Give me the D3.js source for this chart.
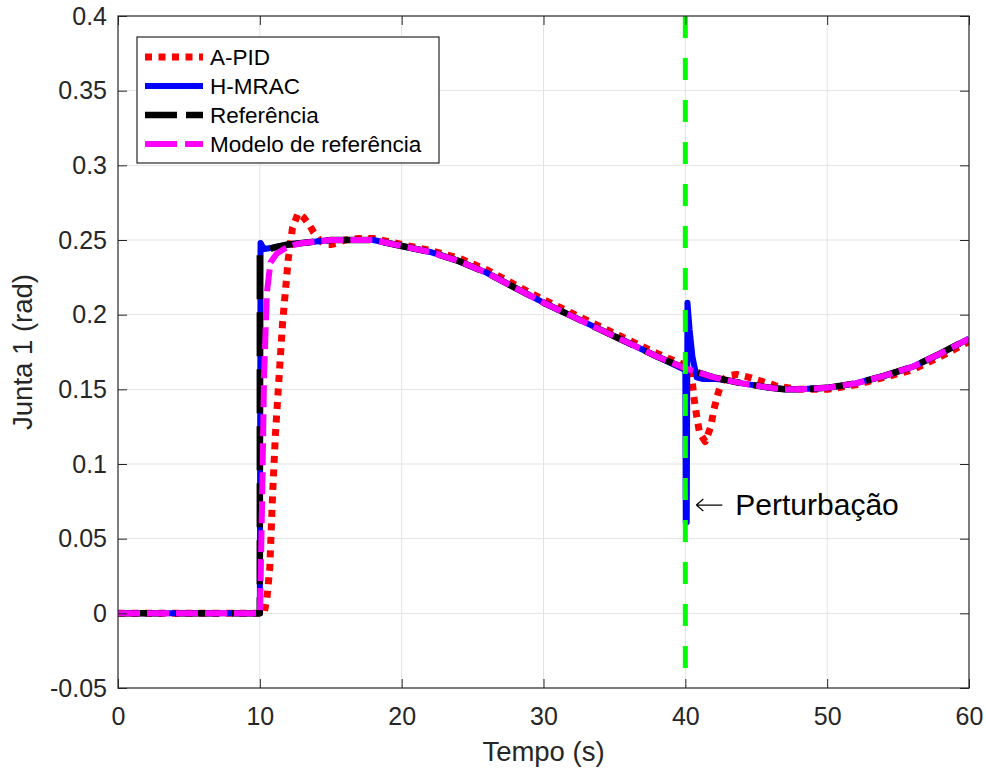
<!DOCTYPE html>
<html>
<head>
<meta charset="utf-8">
<script src="https://cdn.jsdelivr.net/npm/d3@7"></script>
<style>
  body { margin: 0; background: #fff; }
  svg { display: block; font-family: "Liberation Sans", Arial, Helvetica, sans-serif; }
</style>
</head>
<body>
<script>
// Junta 1: A-PID vs H-MRAC com perturbação em t = 40 s

const width = 986;
const height = 775;

const xTicks = [0, 10, 20, 30, 40, 50, 60];
const yTicks = [-0.05, 0, 0.05, 0.1, 0.15, 0.2, 0.25, 0.3, 0.35, 0.4];
const yTickLabels = ["-0.05", "0", "0.05", "0.1", "0.15", "0.2", "0.25", "0.3", "0.35", "0.4"];

// A-PID (red dotted)
const pidT = [0, 10.3, 10.5, 10.7, 10.9, 11.1, 11.3, 11.6, 12, 12.3, 12.7, 13.1, 13.5, 13.8, 14.2, 14.6, 15, 15.5, 16, 17, 18, 19, 20, 22, 24, 26, 28, 30, 32, 34, 36, 38, 40, 40.4, 40.6, 40.8, 41, 41.4, 41.8, 42, 42.3, 42.6, 43, 43.6, 44.5, 45.5, 46.5, 48, 50, 52, 54, 56, 58, 60];
const pidV = [0, 0, 0.01, 0.03, 0.08, 0.12, 0.15, 0.194, 0.237, 0.258, 0.268, 0.265, 0.26, 0.255, 0.25, 0.247, 0.247, 0.248, 0.25, 0.251, 0.251, 0.249, 0.247, 0.243, 0.238, 0.23, 0.22, 0.21, 0.201, 0.192, 0.183, 0.174, 0.166, 0.163, 0.145, 0.132, 0.121, 0.115, 0.125, 0.136, 0.147, 0.156, 0.159, 0.16, 0.158, 0.155, 0.152, 0.15, 0.15, 0.153, 0.158, 0.163, 0.172, 0.182];

// H-MRAC (blue solid)
const mracT = [0, 10, 10.05, 10.3, 11, 12, 13, 14, 15, 16, 17, 18, 19, 20, 22, 24, 26, 28, 30, 32, 34, 36, 38, 40, 40.03, 40.1, 40.15, 40.3, 40.5, 40.8, 41.2, 42, 43, 44, 46, 47, 48, 50, 52, 54, 56, 58, 60];
const mracV = [0, 0, 0.248, 0.244, 0.245, 0.247, 0.248, 0.249, 0.25, 0.25, 0.25, 0.25, 0.248, 0.246, 0.242, 0.236, 0.228, 0.218, 0.208, 0.199, 0.19, 0.181, 0.172, 0.163, 0.061, 0.061, 0.208, 0.19, 0.172, 0.158, 0.157, 0.157, 0.156, 0.154, 0.151, 0.15, 0.15, 0.151, 0.154, 0.159, 0.165, 0.174, 0.184];

// Referência (black dashed)
const refT = [0, 10, 10, 10.5, 11, 12, 13, 14, 15, 16, 17, 18, 19, 20, 22, 24, 26, 28, 30, 32, 34, 36, 38, 40, 42, 44, 46, 47, 48, 50, 52, 54, 56, 58, 60];
const refV = [0, 0, 0.241, 0.243, 0.245, 0.247, 0.248, 0.249, 0.25, 0.25, 0.25, 0.25, 0.248, 0.246, 0.242, 0.236, 0.228, 0.218, 0.208, 0.199, 0.19, 0.181, 0.172, 0.164, 0.158, 0.154, 0.151, 0.15, 0.15, 0.151, 0.154, 0.159, 0.165, 0.174, 0.184];

// Modelo de referência (magenta dashed)
const modT = [0, 10, 10.05, 10.15, 10.3, 10.5, 10.75, 11.2, 11.7, 12.5, 13, 14, 15, 16, 17, 18, 19, 20, 22, 24, 26, 28, 30, 32, 34, 36, 38, 40, 42, 44, 46, 47, 48, 50, 52, 54, 56, 58, 60];
const modV = [0, 0, 0.02, 0.07, 0.16, 0.215, 0.235, 0.241, 0.244, 0.247, 0.248, 0.249, 0.25, 0.25, 0.25, 0.25, 0.248, 0.246, 0.242, 0.236, 0.228, 0.218, 0.208, 0.199, 0.19, 0.181, 0.172, 0.164, 0.158, 0.154, 0.151, 0.15, 0.15, 0.151, 0.154, 0.159, 0.165, 0.174, 0.184];

const perturbT = 40;

const svg = d3.select("body").append("svg")
    .attr("width", width)
    .attr("height", height);

const x = d3.scaleLinear().domain([0, 60]).range([118, 969]);
const y = d3.scaleLinear().domain([-0.05, 0.4]).range([688, 16]);

const axisColor = "#262626";

// grid
const grid = svg.append("g");
grid.selectAll(".gx").data(xTicks.slice(1, -1)).join("line")
    .attr("x1", d => x(d)).attr("x2", d => x(d))
    .attr("y1", y(-0.05)).attr("y2", y(0.4))
    .attr("stroke", "#e3e3e3").attr("stroke-width", 1);
grid.selectAll(".gy").data(yTicks.slice(1, -1)).join("line")
    .attr("y1", d => y(d)).attr("y2", d => y(d))
    .attr("x1", x(0)).attr("x2", x(60))
    .attr("stroke", "#e3e3e3").attr("stroke-width", 1);

svg.append("clipPath").attr("id", "clip")
    .append("rect")
    .attr("x", x(0)).attr("y", y(0.4))
    .attr("width", x(60) - x(0)).attr("height", y(-0.05) - y(0.4));

const plot = svg.append("g").attr("clip-path", "url(#clip)");

const line = d3.line().x(d => x(d[0])).y(d => y(d[1]));
const zip = (ts, vs) => ts.map((t, i) => [t, vs[i]]);

const series = [
    { name: "A-PID", data: zip(pidT, pidV), color: "#ff0000", width: 7, dash: "7,6.5", legendDash: "7,6.5" },
    { name: "H-MRAC", data: zip(mracT, mracV), color: "#0000ff", width: 6, dash: null, legendDash: null },
    { name: "Referência", data: zip(refT, refV), color: "#000000", width: 6.5, dash: "44,13", legendDash: "32,9" },
    { name: "Modelo de referência", data: zip(modT, modV), color: "#ff00ff", width: 6, dash: "22,7", legendDash: "32,8" }
];

series.forEach(s => {
    plot.append("path")
        .datum(s.data)
        .attr("d", line)
        .attr("fill", "none")
        .attr("stroke", s.color)
        .attr("stroke-width", s.width)
        .attr("stroke-linejoin", "round")
        .attr("stroke-dasharray", s.dash);
});

// disturbance marker
plot.append("line")
    .attr("x1", x(perturbT)).attr("x2", x(perturbT))
    .attr("y1", y(0.4)).attr("y2", y(-0.05))
    .attr("stroke", "#00ff00")
    .attr("stroke-width", 5)
    .attr("stroke-dasharray", "22,20");

// axes
const fmtY = d => yTickLabels[yTicks.indexOf(d)];

const gx = svg.append("g").attr("transform", `translate(0,${y(-0.05)})`)
    .call(d3.axisBottom(x).tickValues(xTicks).tickSizeInner(-9).tickSizeOuter(0).tickPadding(19));
const gy = svg.append("g").attr("transform", `translate(${x(0)},0)`)
    .call(d3.axisLeft(y).tickValues(yTicks).tickFormat(fmtY).tickSizeInner(-9).tickSizeOuter(0).tickPadding(11));
const gt = svg.append("g").attr("transform", `translate(0,${y(0.4)})`)
    .call(d3.axisTop(x).tickValues(xTicks).tickFormat("").tickSizeInner(-9).tickSizeOuter(0));
const gr = svg.append("g").attr("transform", `translate(${x(60)},0)`)
    .call(d3.axisRight(y).tickValues(yTicks).tickFormat("").tickSizeInner(-9).tickSizeOuter(0));

[gx, gy, gt, gr].forEach(g => {
    g.select(".domain").remove();
    g.selectAll("line").attr("stroke", axisColor);
    g.selectAll("text")
        .attr("fill", axisColor)
        .style("font-size", "25px")
        .style("font-family", "'Liberation Sans', Arial, sans-serif");
});

svg.append("rect")
    .attr("x", x(0)).attr("y", y(0.4))
    .attr("width", x(60) - x(0)).attr("height", y(-0.05) - y(0.4))
    .attr("fill", "none")
    .attr("stroke", axisColor)
    .attr("stroke-width", 1.2);

// axis labels
svg.append("text")
    .attr("x", (x(0) + x(60)) / 2)
    .attr("y", 761)
    .attr("text-anchor", "middle")
    .attr("fill", axisColor)
    .style("font-size", "27.5px")
    .text("Tempo (s)");

svg.append("text")
    .attr("transform", `translate(32,${(y(0.4) + y(-0.05)) / 2}) rotate(-90)`)
    .attr("text-anchor", "middle")
    .attr("fill", axisColor)
    .style("font-size", "27.5px")
    .text("Junta 1 (rad)");

// annotation
const ann = svg.append("g").attr("transform", `translate(${x(perturbT) + 11},${y(0.0725)})`);
ann.append("path")
    .attr("d", "M0,0 H26 M0,0 L7,-6 M0,0 L7,6")
    .attr("fill", "none")
    .attr("stroke", "#000")
    .attr("stroke-width", 1.2);
ann.append("text")
    .attr("x", 39)
    .attr("y", 10)
    .attr("fill", "#000")
    .style("font-size", "30px")
    .text("Perturbação");

// legend
const legend = svg.append("g").attr("transform", "translate(137,37)");
legend.append("rect")
    .attr("width", 302).attr("height", 126)
    .attr("fill", "#fff")
    .attr("stroke", axisColor)
    .attr("stroke-width", 1.2);

series.forEach((s, i) => {
    const ly = 20 + i * 29;
    legend.append("line")
        .attr("x1", 8).attr("x2", 66)
        .attr("y1", ly).attr("y2", ly)
        .attr("stroke", s.color)
        .attr("stroke-width", s.width)
        .attr("stroke-dasharray", s.legendDash);
    legend.append("text")
        .attr("x", 73)
        .attr("y", ly)
        .attr("dy", "0.36em")
        .attr("fill", "#000")
        .style("font-size", "22.5px")
        .text(s.name);
});
</script>
</body>
</html>
